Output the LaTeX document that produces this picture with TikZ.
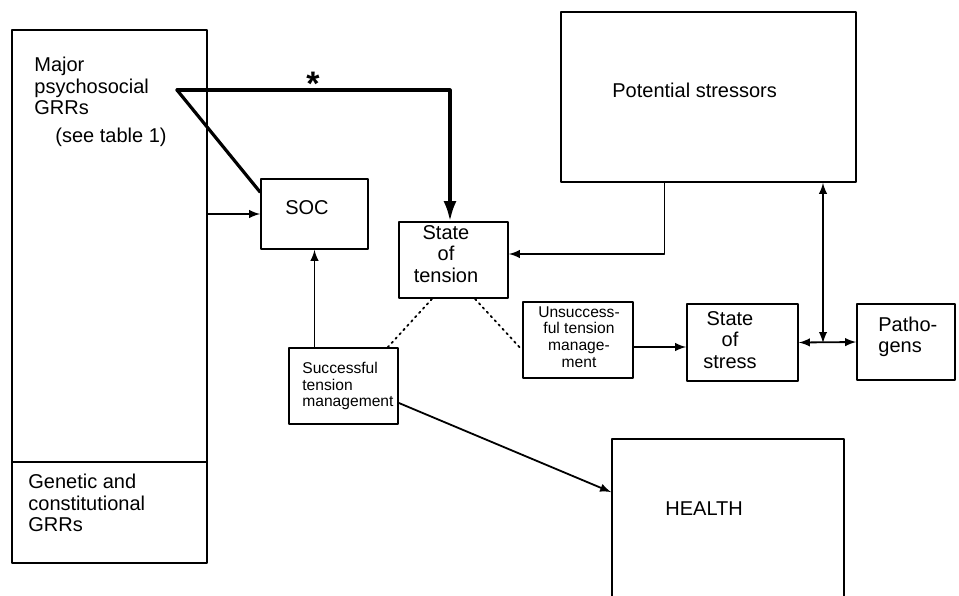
\documentclass[tikz,border=0pt]{standalone}
\usepackage{fontspec}
\setmainfont{Liberation Sans}
\usepackage{tikz}
\tikzset{>=latex}
\usetikzlibrary{arrows,arrows.meta}
\usetikzlibrary{calc}
\usetikzlibrary{fit}
\tikzset{blk/.style={draw,line width=0.9pt,inner sep=0pt},
	txt/.style={inner sep=0pt,font=\fontsize{10}{10.6}\selectfont},
	smalltxt/.style={inner sep=0pt,font=\fontsize{7.8}{8.3}\selectfont},
	link/.style={line width=0.9pt},
	heavy/.style={line width=1.6pt}}

\begin{document}
\begin{tikzpicture}[line cap=round,line join=round,x=0.5pt,y=-0.5pt]
	\useasboundingbox (0,0) rectangle (959,595);
	\clip (0,0) rectangle (959,595);
	% boxes
	\node[blk,fit={(12,30) (207,462)}] (major) {};
	\node[blk,fit={(12,462) (207,563)}] (genetic) {};
	\node[blk,fit={(261,179) (368,249)}] (soc) {};
	\node[blk,fit={(399,222) (508,298)}] (tension) {};
	\node[blk,fit={(561,12) (856,182)}] (stressors) {};
	\node[blk,fit={(523,302) (633,378)}] (unsucc) {};
	\node[blk,fit={(687,304) (798,381)}] (stress) {};
	\node[blk,fit={(857,304) (955,380)}] (pathogens) {};
	\node[blk,fit={(289,348) (398,424)}] (succ) {};
	\node[blk,fit={(612,439) (844,600)}] (health) {};
	% texts
	\node[txt,anchor=north west,align=left] (majortxt) at (34,57) {Major\\psychosocial\\GRRs};
	\node[txt,anchor=west] (seetab) at (55,137) {(see table 1)};
	\node[txt,anchor=west,align=left] (genetictxt) at (28,503) {Genetic and\\constitutional\\GRRs};
	\node[inner sep=0pt,font=\fontsize{17}{17}\selectfont\bfseries] (star) at (313,84) {*};
	\node[txt,anchor=west] (stressorstxt) at (612,90) {Potential stressors};
	\node[txt] (soctxt) at (307,208) {SOC};
	\node[txt,align=center] (tensiontxt) at (446,254) {State\\of\\tension};
	\node[smalltxt,align=center] (unsucctxt) at (579,337) {Unsuccess-\\ful tension\\manage-\\ment};
	\node[txt,align=center] (stresstxt) at (730,340) {State\\of\\stress};
	\node[txt,anchor=west,align=left] (pathtxt) at (878,337) {Patho-\\gens};
	\node[smalltxt,anchor=west,align=left] (succtxt) at (302,386) {Successful\\tension\\management};
	\node[txt,anchor=west] (healthtxt) at (665,509) {HEALTH};
	% connectors
	\coordinate (fork) at (177,90);
	\coordinate (bend) at (450,90);
	\draw[heavy,-{Latex[length=10pt,width=6.5pt]}] (fork) -- (bend) -- (tension.north -| bend);
	\draw[heavy] (fork) -- ([yshift=-7pt]soc.north west);
	\draw[link,->] (soc.west -| major.east) -- (soc.west);
	\draw[link,->] (soc.south |- succ.north) -- (soc.south);
	\draw[link,->] ([xshift=-22pt]stressors.south) |- ([yshift=3pt]tension.east);
	\coordinate (ua) at ([yshift=-3.5pt]unsucc.east);
	\draw[link,->] (ua) -- (ua -| stress.west);
	\draw[link,<->] (stress.east) -- (pathogens.west);
	\coordinate (junc) at (823,343);
	\draw[link,<->] (stressors.south -| junc) -- (junc);
	\draw[link,->] ([yshift=-8.5pt]succ.east) -- ([yshift=-27pt]health.north west);
	\draw[link,dotted] ([xshift=-10.75pt]tension.south) -- ([xshift=-5.5pt]succ.north east);
	\draw[link,dotted] ([xshift=10.75pt]tension.south) -- ([yshift=-5pt]unsucc.west);
\end{tikzpicture}
\end{document}
